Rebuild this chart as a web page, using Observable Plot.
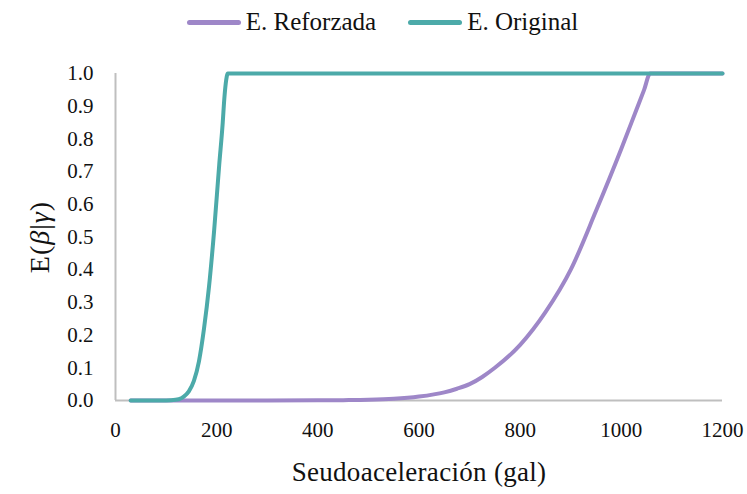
<!DOCTYPE html>
<html><head><meta charset="utf-8">
<script src="https://cdn.jsdelivr.net/npm/d3@7"></script>
<script src="https://cdn.jsdelivr.net/npm/@observablehq/plot@0.6"></script>
<style>
body{margin:0;background:#fff;font-family:"Liberation Serif",serif;}
#legend{height:42px;display:flex;justify-content:center;align-items:center;gap:32px;font-size:25px;color:#111;padding-left:18px;box-sizing:border-box;padding-top:2px;}
#legend .it{display:flex;align-items:center;gap:5px;}
#legend .sw{width:54px;height:5px;border-radius:3px;}
#chart svg text{font-family:"Liberation Serif",serif !important;fill:#111;}
</style></head>
<body>
<div id="legend"></div>
<div id="chart"></div>
<script>
const seriesNames = ["E. Reforzada", "E. Original"];
const colors = ["#9e87c8", "#4caaa9"];

const reforzadaX = [30, 100, 200, 300, 400, 450, 500, 550, 600, 650, 675, 700, 725, 750, 800, 850, 900, 950, 1000, 1030, 1045, 1057, 1200];
const reforzadaY = [0, 0, 0, 0, 0.0005, 0.001, 0.002, 0.005, 0.012, 0.025, 0.036, 0.05, 0.072, 0.10, 0.17, 0.27, 0.40, 0.58, 0.77, 0.89, 0.95, 1.0, 1.0];

const originalX = [30, 60, 90, 110, 125, 135, 145, 155, 165, 175, 185, 195, 205, 212, 215, 218, 222, 1200];
const originalY = [0, 0, 0, 0.001, 0.004, 0.012, 0.028, 0.06, 0.12, 0.22, 0.35, 0.52, 0.72, 0.85, 0.92, 0.97, 1.0, 1.0];

const xTicks = [0, 200, 400, 600, 800, 1000, 1200];
const yTicks = [0, 0.1, 0.2, 0.3, 0.4, 0.5, 0.6, 0.7, 0.8, 0.9, 1.0];

const refData = reforzadaX.map((x, i) => ({x, y: reforzadaY[i]}));
const oriData = originalX.map((x, i) => ({x, y: originalY[i]}));

const leg = document.getElementById("legend");
seriesNames.forEach((n, i) => {
  const d = document.createElement("div"); d.className = "it";
  d.innerHTML = `<span class="sw" style="background:${colors[i]}"></span><span>${n}</span>`;
  leg.appendChild(d);
});

const chart = Plot.plot({
  width: 747, height: 452,
  marginTop: 31, marginBottom: 94, marginLeft: 115, marginRight: 25,
  style: {fontFamily: "Liberation Serif, serif", fontSize: "21px", color: "#111", background: "#fff"},
  x: {domain: [0, 1200], ticks: xTicks, tickFormat: d => String(d), tickSize: 0, tickPadding: 22,
      label: "Seudoaceleración (gal)", labelAnchor: "center", labelOffset: 80},
  y: {domain: [0, 1], ticks: yTicks, tickFormat: d => d.toFixed(1), tickSize: 0, tickPadding: 22,
      label: "E(β|γ)", labelAnchor: "center", labelOffset: 86},
  marks: [
    Plot.ruleX([0], {stroke: "#bfbfbf", strokeWidth: 2}),
    Plot.ruleY([0], {stroke: "#bfbfbf", strokeWidth: 2}),
    Plot.line(refData, {x: "x", y: "y", stroke: colors[0], strokeWidth: 4, curve: "monotone-x", strokeLinecap: "round"}),
    Plot.line(oriData, {x: "x", y: "y", stroke: colors[1], strokeWidth: 4, curve: "monotone-x", strokeLinecap: "round"})
  ]
});
document.getElementById("chart").appendChild(chart);

const xl = d3.select(chart).select("[aria-label='x-axis label'] text");
if (!xl.empty()) xl.text("Seudoaceleración (gal)").style("font-size", "27px").style("letter-spacing", "0.3px");
const yl = d3.select(chart).select("[aria-label='y-axis label'] text");
if (!yl.empty()) {
  yl.text(null).style("font-size", "28px").style("letter-spacing", "1px");
  yl.append("tspan").text("E(");
  yl.append("tspan").attr("font-style", "italic").text("β");
  yl.append("tspan").text("|");
  yl.append("tspan").attr("font-style", "italic").text("γ");
  yl.append("tspan").text(")");
}
</script>
</body></html>
